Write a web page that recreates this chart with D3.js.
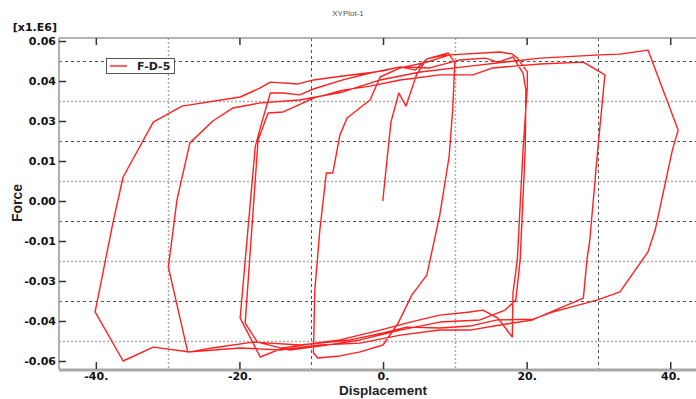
<!DOCTYPE html>
<html>
<head>
<meta charset="utf-8">
<script src="https://cdn.jsdelivr.net/npm/d3@7/dist/d3.min.js"></script>
<style>
  body { margin: 0; background: #fff; }
  svg { display: block; }
</style>
</head>
<body>
<svg width="696" height="399"></svg>
<script>
// displacement / force pairs (force in x1.E6), one array per loading cycle
const cycle10 = [[0,0],[0,0.001],[1.1,0.0296],[2.2,0.0405],[3.2,0.0356],[4.7,0.0476],[6.1,0.0533],[9.1,0.0555],[10.0,0.0518],
  [9.7,0.0341],[9.2,0.0165],[7.9,-0.0053],[6.1,-0.0278],[4.0,-0.0353],[2.1,-0.0458],[0,-0.054],[-3.2,-0.0566],[-6.0,-0.0581],[-9.1,-0.0589],[-9.7,-0.057]];
const cycle20a = [[-9.5,-0.0334],[-8.8,-0.0109],[-7.9,0.0105],[-7.0,0.0105],[-6.0,0.0248],[-5.0,0.0311],[-3.6,0.0341],[-1.8,0.0379],[-0.4,0.0465],[2.4,0.0499],[6.1,0.0521],[9.3,0.0548],[16.3,0.0559],[18.0,0.0551],[18.7,0.0536],[20.1,0.0484],
  [20.1,0.0428],[19.5,0.0191],[18.7,-0.0221],[18.1,-0.0345],[18.0,-0.051],[16.0,-0.0439],[13.9,-0.0409],[12.1,-0.0416],[7.9,-0.0428],[3.8,-0.0454],[-0.4,-0.0484],[-6.0,-0.0521],[-10.2,-0.0536],[-13.9,-0.0551],[-17.1,-0.0585],[-19.9,-0.0439]];
const cycle20b = [[-17.8,0.0203],[-17.1,0.0274],[-15.7,0.0405],[-13.9,0.0405],[-11.6,0.0398],[-9.7,0.042],[-5.6,0.0454],[-1.8,0.048],[2.4,0.0503],[6.5,0.0499],[10.7,0.0529],[14.2,0.0536],[16.0,0.0521],[18.1,0.054],[19.5,0.048],[19.9,0.0416],
  [19.8,0.0191],[19.1,-0.0221],[18.5,-0.0371],[17.0,-0.0409],[13.5,-0.0446],[7.9,-0.0454],[2.4,-0.0484],[-3.2,-0.0521],[-8.8,-0.0544],[-13.0,-0.0559],[-17.5,-0.0529],[-19.2,-0.0458]];
const cycle30 = [[-17.4,0.0229],[-16.0,0.033],[-13.9,0.0334],[-11.8,0.036],[-9.7,0.0386],[-5.6,0.0416],[-1.8,0.0431],[2.4,0.0454],[7.9,0.0473],[12.5,0.0473],[15.3,0.0499],[21.9,0.0514],[27.9,0.0521],[30.9,0.0473],
  [29.9,0.0191],[28.8,-0.0146],[28.4,-0.0221],[27.9,-0.0364],[20.8,-0.0446],[16.3,-0.0465],[12.1,-0.0484],[7.9,-0.0484],[2.4,-0.0503],[-3.2,-0.0533],[-8.8,-0.054],[-14.3,-0.0559],[-19.9,-0.0551],[-27.2,-0.0566],[-29.9,-0.0248]];
const cycle40 = [[-28.7,0.0004],[-26.9,0.0218],[-23.7,0.03],[-20.9,0.0349],[-17.1,0.0368],[-11.6,0.0379],[-5.6,0.0409],[-0.4,0.0454],[5.2,0.0484],[12.1,0.0506],[21.9,0.0536],[30.2,0.0548],[33.0,0.0551],[36.9,0.0566],[41.1,0.0266],
  [40.3,0.0191],[37.9,-0.0109],[36.9,-0.0191],[33.0,-0.0341],[29.9,-0.0371],[23.7,-0.0416],[20.9,-0.0443],[15.9,-0.0446],[12.1,-0.0469],[7.9,-0.0476],[3.3,-0.0473],[0,-0.0495],[-4.6,-0.0521],[-11.6,-0.054],[-18.1,-0.0529],[-23.8,-0.0551],[-26.9,-0.0566],[-32.0,-0.0548],[-36.2,-0.06],[-40.1,-0.0416]];
const reload = [[-37.6,-0.0079],[-36.2,0.009],[-32.0,0.0296],[-28.0,0.0356],[-19.9,0.039],[-17.1,0.0424],[-15.7,0.0446],[-11.8,0.0439],[-9.7,0.0454],[-5.6,0.0469],[-2.2,0.048],[0,0.0488],[2.4,0.0503],[4.5,0.0491],[6.1,0.0533],[8.9,0.0548]];

const xTicks = [-40, -20, 0, 20, 40];
const xTickLabels = ['-40.', '-20.', '0.', '20.', '40.'];
const yTicks = [0.06, 0.045, 0.03, 0.015, 0, -0.015, -0.03, -0.045, -0.06];
const yTickLabels = ['0.06', '0.04', '0.03', '0.01', '0.00', '-0.01', '-0.03', '-0.04', '-0.06'];
const seriesName = 'F-D-5';

(function() {
  const svg = d3.select('svg'),
      pLeft = 59, pRight = 696, pTop = 38, pBottom = 369;

  const x = d3.scaleLinear().domain([-45.13, 43.59]).range([pLeft, pRight]);
  const y = d3.scaleLinear().domain([-0.063, 0.06113]).range([pBottom, pTop]);

  svg.append('text')
      .attr('x', 348).attr('y', 16)
      .attr('text-anchor', 'middle')
      .style('font', '8px "Liberation Sans", Arial, sans-serif')
      .style('fill', '#555')
      .text('XYPlot-1');

  // grid lines sit halfway between the labelled ticks, alternating dashed / dotted
  const xGrid = d3.pairs(xTicks, (a, b) => (a + b) / 2);
  const yGrid = d3.pairs(yTicks, (a, b) => (a + b) / 2);

  const grid = svg.append('g');
  grid.selectAll('line.gx').data(xGrid).enter().append('line')
      .attr('x1', d => Math.round(x(d)) + 0.5).attr('x2', d => Math.round(x(d)) + 0.5)
      .attr('y1', pTop).attr('y2', pBottom)
      .attr('stroke', (d, i) => i % 2 ? '#555' : '#aaa')
      .attr('stroke-width', (d, i) => i % 2 ? 1 : 1.5)
      .attr('stroke-dasharray', (d, i) => i % 2 ? '3,3' : '2,2');
  grid.selectAll('line.gy').data(yGrid).enter().append('line')
      .attr('y1', d => Math.round(y(d)) + 0.5).attr('y2', d => Math.round(y(d)) + 0.5)
      .attr('x1', pLeft).attr('x2', pRight)
      .attr('stroke', (d, i) => i % 2 ? '#aaa' : '#555')
      .attr('stroke-width', (d, i) => i % 2 ? 1.5 : 1)
      .attr('stroke-dasharray', (d, i) => i % 2 ? '2,2' : '3,3');

  // frame
  svg.append('line').attr('x1', pLeft).attr('x2', pRight).attr('y1', pTop).attr('y2', pTop)
      .attr('stroke', '#999').attr('stroke-width', 1.5);
  svg.append('line').attr('x1', pLeft).attr('x2', pLeft).attr('y1', pTop).attr('y2', pBottom)
      .attr('stroke', '#999').attr('stroke-width', 1.5);
  svg.append('line').attr('x1', pLeft).attr('x2', pRight).attr('y1', pBottom + 1).attr('y2', pBottom + 1)
      .attr('stroke', '#a8a8a8').attr('stroke-width', 3);

  const tickFont = 'bold 11px "DejaVu Sans", Verdana, sans-serif';

  const yAxis = svg.append('g')
      .attr('transform', `translate(${pLeft},0)`)
      .call(d3.axisLeft(y).tickValues(yTicks).tickFormat((d, i) => yTickLabels[i])
        .tickSizeInner(-7).tickSizeOuter(0).tickPadding(3));
  yAxis.select('.domain').remove();
  yAxis.selectAll('line').attr('stroke', '#333').attr('stroke-width', 1.5);
  yAxis.selectAll('text').style('font', tickFont).attr('fill', '#111');

  const xAxis = svg.append('g')
      .attr('transform', `translate(0,${pBottom})`)
      .call(d3.axisBottom(x).tickValues(xTicks).tickFormat((d, i) => xTickLabels[i])
        .tickSizeInner(-7).tickSizeOuter(0).tickPadding(3));
  xAxis.select('.domain').remove();
  xAxis.selectAll('line').attr('stroke', '#333').attr('stroke-width', 1.5);
  xAxis.selectAll('text').style('font', tickFont).attr('fill', '#111');

  const xTop = svg.append('g')
      .attr('transform', `translate(0,${pTop})`)
      .call(d3.axisTop(x).tickValues(xTicks).tickFormat('').tickSizeInner(-7).tickSizeOuter(0));
  xTop.select('.domain').remove();
  xTop.selectAll('line').attr('stroke', '#333').attr('stroke-width', 1.5);

  svg.append('text')
      .attr('x', 57).attr('y', 31)
      .attr('text-anchor', 'end')
      .style('font', tickFont).attr('fill', '#111')
      .text('[x1.E6]');

  svg.append('text')
      .attr('transform', 'translate(22,203) rotate(-90)')
      .attr('text-anchor', 'middle')
      .style('font', 'bold 14px "Liberation Sans", Arial, sans-serif').attr('fill', '#222')
      .text('Force');

  svg.append('text')
      .attr('x', 383).attr('y', 395)
      .attr('text-anchor', 'middle')
      .style('font', 'bold 13.5px "Liberation Sans", Arial, sans-serif').attr('fill', '#222')
      .text('Displacement');

  // curve
  const data = [].concat(cycle10, cycle20a, cycle20b, cycle30, cycle40, reload);
  const line = d3.line().x(d => x(d[0])).y(d => y(d[1]));
  svg.append('path')
      .datum(data)
      .attr('d', line)
      .attr('fill', 'none')
      .attr('stroke', '#ff2020')
      .attr('stroke-width', 1.4)
      .attr('stroke-linejoin', 'round');

  // legend
  const lg = svg.append('g').attr('transform', 'translate(106,58)');
  lg.append('rect').attr('x', 0.5).attr('y', 0.5).attr('width', 68).attr('height', 15)
      .attr('fill', '#fff').attr('stroke', '#555');
  lg.append('line').attr('x1', 4).attr('x2', 21).attr('y1', 8).attr('y2', 8)
      .attr('stroke', '#ff2020').attr('stroke-width', 1.4);
  lg.append('text').attr('x', 31).attr('y', 12)
      .style('font', tickFont).attr('fill', '#222')
      .text(seriesName);
})();
</script>
</body>
</html>
